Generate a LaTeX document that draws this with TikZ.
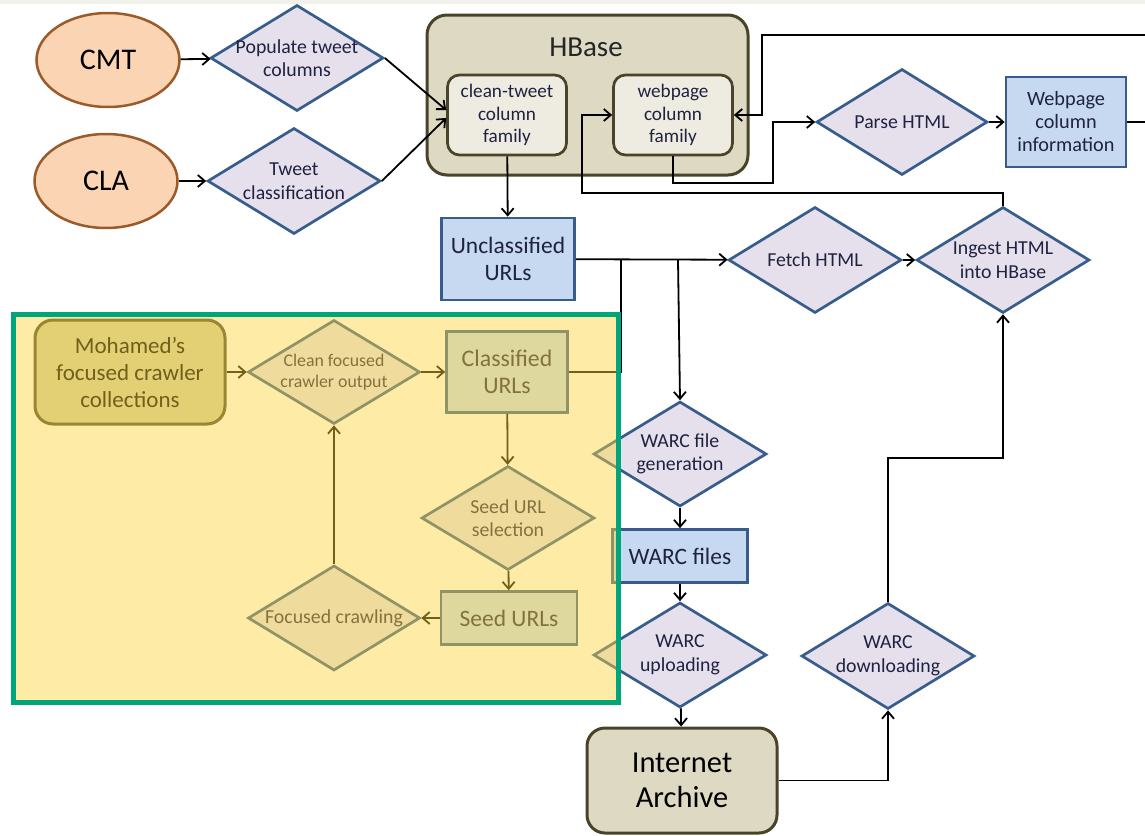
\documentclass[tikz,border=0pt]{standalone}
\usepackage{fontspec}
\setmainfont{Carlito}
\usetikzlibrary{shapes.geometric,arrows.meta}

\definecolor{peach}{HTML}{FBD4B4}
\definecolor{peachline}{HTML}{9A5A2A}
\definecolor{lav}{HTML}{E5E0EC}
\definecolor{navy}{HTML}{385D8A}
\definecolor{skyb}{HTML}{C6D9F1}
\definecolor{hbtan}{HTML}{DDD9C3}
\definecolor{hbline}{HTML}{494429}
\definecolor{hbin}{HTML}{EEECE1}
\definecolor{txtc}{HTML}{1F2240}
\definecolor{hilite}{HTML}{FDD53A}
\definecolor{frame}{HTML}{00A67A}
\definecolor{topband}{HTML}{F1F1EB}
\definecolor{mohf}{HTML}{CFCDA6}

\begin{document}
\begin{tikzpicture}[x=1pt,y=-1pt,
  >={Straight Barb[length=7pt,width=12pt]},
  every node/.style={text=txtc},
  src/.style={ellipse,draw=peachline,fill=peach,line width=2.5pt,minimum width=143,minimum height=94,inner sep=0pt,text=black,font=\fontsize{30}{34}\selectfont},
  dia/.style={diamond,draw=navy,fill=lav,line width=2.7pt,minimum width=173,minimum height=106,inner sep=-30pt,align=center,font=\fontsize{19.8}{23.5}\selectfont},
  blu/.style={rectangle,draw=navy,fill=skyb,line width=2.7pt,inner sep=0pt,align=center,font=\fontsize{23.5}{27}\selectfont},
  hb/.style={rectangle,rounded corners=18,draw=hbline,fill=hbtan,line width=3pt,inner sep=0pt,align=center,text=black},
  cf/.style={rectangle,rounded corners=12,draw=hbline,fill=hbin,line width=2.7pt,minimum width=119,minimum height=80,inner sep=0pt,align=center,font=\fontsize{19.2}{22.5}\selectfont},
  lnk/.style={line width=1.8pt,black}]

  %baggrund
	\useasboundingbox (0,0) rectangle (1145,835);
	\fill[white] (0,0) rectangle (1145,835);
	\fill[topband] (0,0) rectangle (1145,4);

  %kilder
	\node[src] (cmt) at (108,60) {CMT};
	\node[src] (cla) at (106,181) {CLA};
	\node[dia] (pop) at (297,58) {Populate tweet\\columns};
	\node[dia] (tcl) at (294,181) {Tweet\\classification};

  %HBase
	\node[hb,rounded corners=20,minimum width=321,minimum height=160] (hbase) at (587.5,95) {};
	\node[font=\fontsize{29}{32}\selectfont,text=black!85] (hbt) at (586,47) {HBase};
	\node[cf] (ctw) at (507,115) {clean-tweet\\column\\family};
	\node[cf] (wpc) at (673,115) {webpage\\column\\family};

  %html
	\node[blu,minimum width=133,minimum height=82] (unc) at (508,259) {Unclassified\\URLs};
	\node[dia] (fetch) at (815,260) {Fetch HTML};
	\node[dia] (ingest) at (1003,260) {Ingest HTML\\into HBase};
	\node[dia,minimum width=171] (parse) at (902,122) {Parse HTML};
	\node[blu,minimum width=120,minimum height=90,font=\fontsize{20.3}{23}\selectfont] (info) at (1066,122) {Webpage\\column\\information};

  %warc
	\node[dia,minimum height=105] (wgen) at (680,454) {WARC file\\generation};
	\node[blu,minimum width=135,minimum height=53] (wfil) at (680,556) {WARC files};
	\node[dia,minimum height=105] (wup) at (680,655) {WARC\\uploading};
	\node[hb,minimum width=190,minimum height=105,font=\fontsize{30.5}{35}\selectfont] (ia) at (682,780.5) {Internet\\Archive};
	\node[dia] (wdown) at (888,656) {WARC\\downloading};

  %crawler
	\node[hb,fill=mohf,minimum width=190,minimum height=104,font=\fontsize{23}{27}\selectfont] (moh) at (130,372) {Mohamed's\\focused crawler\\collections};
	\node[dia,minimum width=172,minimum height=104,font=\fontsize{17.8}{21}\selectfont] (clean) at (334,372) {Clean focused\\crawler output};
	\node[blu,minimum width=121,minimum height=81,font=\fontsize{23.8}{27}\selectfont] (cls) at (507,372) {Classified\\URLs};
	\node[dia,minimum height=104] (sel) at (508,518) {Seed URL\\selection};
	\node[blu,minimum width=136,minimum height=53] (seed) at (509,618) {Seed URLs};
	\node[dia,minimum width=172,minimum height=105] (crawl) at (334,618) {Focused crawling};

  %hjaelpepunkter
	\coordinate (j1) at (621,260);
	\coordinate (j2) at (678,260);
	\coordinate (k1) at (888,458);
	\coordinate (e1) at (1145,122);
	\coordinate (e2) at (1145,35);

  %forbindelser
	\draw[lnk,->] (cmt) -- (pop);
	\draw[lnk,->] (cla) -- (tcl);
	\draw[lnk,->] (pop.east) -- ([yshift=5pt]ctw.west);
	\draw[lnk,->] (tcl.east) -- ([yshift=-3pt]ctw.west);
	\draw[lnk,->] (ctw) -- (unc);
	\draw[lnk,->] (unc) -- (fetch);
	\draw[lnk] (cls.east) -| (j1);
	\draw[lnk,->] (j2) -- (wgen.north);
	\draw[lnk,->] (wgen) -- (wfil);
	\draw[lnk,->] (wfil) -- (wup);
	\draw[lnk,->] (wup) -- (ia);
	\draw[lnk,->] (ia.east) -| (wdown.south);
	\draw[lnk,->] (wdown.north) -- (k1) -| (ingest.south);
	\draw[lnk,->] (fetch) -- (ingest);
	\draw[lnk,->] (ingest.north) |- (582,193) |- (wpc.west);
	\draw[lnk,->] (wpc.south) |- (773,183) |- (parse.west);
	\draw[lnk,->] (parse) -- (info);
	\draw[lnk] (info.east) -- (e1);
	\draw[lnk,->] (e2) -| (762,115) -- (wpc.east);
	\draw[lnk,->] (moh) -- (clean);
	\draw[lnk,->] (clean) -- (cls);
	\draw[lnk,->] (cls) -- (sel);
	\draw[lnk,->] (sel) -- (seed);
	\draw[lnk,->] (seed) -- (crawl);
	\draw[lnk,->] (crawl) -- (clean);

  %gul markering
	\fill[hilite,fill opacity=0.45] (13,314) rectangle (618,702);
	\draw[frame,line width=5pt] (13,314) rectangle (618,702);

\end{tikzpicture}
\end{document}
